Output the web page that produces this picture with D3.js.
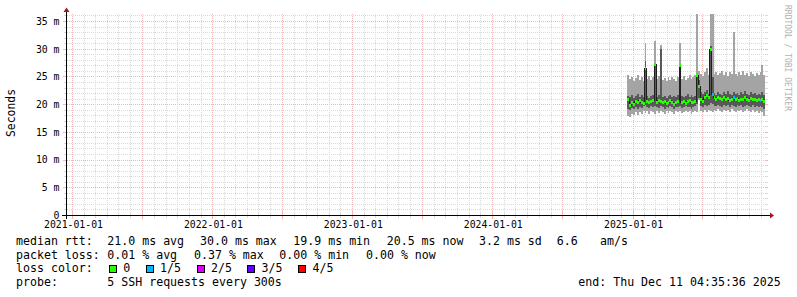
<!DOCTYPE html>
<html><head><meta charset="utf-8">
<script src="https://cdn.jsdelivr.net/npm/d3@7"></script>
<style>
body{margin:0;background:#fff}
svg{display:block}
text{font-family:"DejaVu Sans Mono",monospace;fill:#000}
</style>
</head><body>
<svg id="c" width="797" height="297"></svg>
<script>
// ---- time range of the graph ----
const startTime = new Date("2020-12-11T04:35:36Z");
const endTime = new Date("2025-12-11T04:35:36Z");
// samples (consolidated RRA rows)
const sampleStart = "2024-12-17T00:00:00Z";
const sampleStepDays = 5;

// sorted ping values per sample, ms (p1 = min ... p5 = max), median = p3
const p5 = [25.3,24.6,25.0,24.2,24.8,25.4,24.5,24.9,24.3,31.1,24.7,25.2,24.4,24.9,31.5,24.6,25.1,30.7,24.5,24.8,24.2,24.9,24.4,25.0,24.6,24.3,24.9,31.1,24.7,25.1,24.5,24.8,25.3,24.6,25.0,25.4,36.5,26.0,25.6,25.2,25.8,26.6,25.4,36.5,36.5,25.5,25.9,25.3,25.7,26.0,25.4,25.8,25.2,25.9,25.5,33.1,25.6,25.1,25.8,25.4,26.0,25.3,25.7,25.2,25.9,25.5,25.1,25.7,25.3,25.8,27.1,25.4];
const p4 = [21.6,21.3,21.8,21.2,21.5,21.9,21.4,21.7,21.3,27.8,21.6,21.2,21.5,21.8,27.6,21.4,21.7,30.0,21.3,21.6,21.2,21.5,21.8,21.3,21.6,21.4,21.7,27.4,21.5,21.3,21.6,21.9,21.4,21.7,21.3,21.6,25.4,24.4,22.3,21.9,22.2,22.6,22.0,30.6,25.0,22.1,21.8,22.3,22.0,21.7,22.2,21.9,22.4,22.0,21.8,22.3,21.9,22.1,21.7,22.2,21.9,22.4,22.0,21.8,22.2,21.9,22.1,21.7,22.0,21.8,22.3,21.8];
const median = [21.0,19.9,20.4,20.1,20.6,20.3,20.7,20.4,20.2,26.6,20.5,20.3,20.6,20.8,27.3,20.4,20.7,20.5,20.3,20.6,20.2,20.4,20.7,20.3,20.1,20.4,20.6,27.0,20.3,20.5,20.2,20.6,20.8,20.4,20.3,20.6,25.3,23.3,20.9,20.6,21.2,21.6,21.3,30.0,21.9,21.2,21.0,21.3,21.1,20.9,21.2,21.0,21.1,20.8,21.0,21.2,20.9,21.1,20.8,21.0,20.9,21.2,21.0,20.8,21.1,20.9,21.0,20.8,20.9,20.7,20.9,20.5];
const p2 = [19.2,19.0,19.4,19.3,19.5,19.3,19.6,19.4,19.7,20.0,19.6,19.4,19.7,19.5,19.8,19.6,19.4,19.7,19.5,19.3,19.6,19.4,19.7,19.5,19.3,19.6,19.5,19.8,19.4,19.6,19.7,19.5,19.6,19.3,19.6,19.7,20.2,21.2,19.8,19.6,19.9,19.7,20.0,20.3,20.2,19.8,19.7,20.0,19.8,19.6,19.9,19.7,19.9,19.6,20.0,19.8,19.6,19.9,19.7,20.0,19.6,19.8,20.0,19.7,19.5,19.9,19.6,19.8,19.5,19.7,19.6,19.3];
const p1 = [18.0,17.8,18.3,18.1,18.6,18.2,18.7,18.4,18.9,18.5,18.8,18.3,18.9,18.6,18.4,18.8,18.5,18.9,18.6,18.3,18.8,18.5,18.9,18.7,18.4,18.8,18.6,18.9,18.5,18.7,18.9,18.6,18.8,18.4,18.7,18.9,18.6,20.8,18.9,18.6,19.0,18.7,19.1,18.8,18.6,19.0,18.8,19.2,18.9,18.7,19.1,18.8,19.0,18.7,19.2,18.9,18.6,19.0,18.8,19.1,18.7,18.9,19.2,18.8,18.6,19.0,18.7,18.9,18.5,18.8,18.6,18.0];
// lost pings per sample (out of 5)
const loss = [0,0,0,0,0,0,0,0,0,0,0,0,0,0,0,0,0,0,0,0,0,0,0,0,0,0,0,0,0,0,0,0,0,0,0,0,0,0,0,0,0,0,0,0,1,0,0,0,0,0,0,0,0,0,0,1,0,0,0,0,0,0,0,0,0,0,0,0,0,1,0,0];

// ---- axes ----
const yTickValues = [0,5,10,15,20,25,30,35];
const yTickLabels = ["0","5 m","10 m","15 m","20 m","25 m","30 m","35 m"];
const xLabelDates = ["2021-01-01","2022-01-01","2023-01-01","2024-01-01","2025-01-01"];
const yMax = 36.35;

// ---- legend ----
const lossLabels = ["0","1/5","2/5","3/5","4/5"];
const lossColors = ["#26ff00","#00b8ff","#dd00ff","#5e00ff","#ff0000"];
const rttLine = [["median rtt:",16],["21.0 ms avg",107.3],["30.0 ms max",200],["19.9 ms min",293.3],["20.5 ms now",386.7],["3.2 ms sd",479],["6.6",556.7],["am/s",600]];
const lossLine = [["packet loss:",16],["0.01 % avg",107.3],["0.37 % max",194],["0.00 % min",279.3],["0.00 % now",366]];
const probeText = "5 SSH requests every 300s";
const endText = "end: Thu Dec 11 04:35:36 2025";

const svg = d3.select("#c");
svg.append("rect").attr("width",797).attr("height",297).attr("fill","#fff");

const x = d3.scaleUtc().domain([startTime,endTime]).range([65,765]);
const y = d3.scaleLinear().domain([0,yMax]).range([215.5,14]);
const px = v => Math.floor(v)+0.5;

const gridMinor = "#dadada", gridMajor = "#efb8b8";
const grid = svg.append("g").attr("shape-rendering","crispEdges");
// horizontal grid
d3.range(1,37).forEach(v=>{
  if (y(v) < 14) return;
  const major = v%5===0;
  grid.append("line").attr("x1",67).attr("x2",768).attr("y1",px(y(v))).attr("y2",px(y(v)))
    .attr("stroke",major?gridMajor:gridMinor).attr("stroke-dasharray","1,1");
  grid.append("line").attr("x1",major?63:64).attr("x2",68).attr("y1",px(y(v))).attr("y2",px(y(v)))
    .attr("stroke",major?gridMajor:gridMinor);
  grid.append("line").attr("x1",765).attr("x2",768).attr("y1",px(y(v))).attr("y2",px(y(v)))
    .attr("stroke",major?gridMajor:gridMinor);
});
// vertical grid (monthly minor, half-year major)
d3.utcMonth.range(startTime,endTime).forEach(d=>{
  const major = d.getUTCMonth()%6===0;
  const xx = px(x(d));
  grid.append("line").attr("x1",xx).attr("x2",xx).attr("y1",14).attr("y2",215)
    .attr("stroke",major?gridMajor:gridMinor).attr("stroke-dasharray","1,1");
  grid.append("line").attr("x1",xx).attr("x2",xx).attr("y1",major?211:212).attr("y2",major?219:218)
    .attr("stroke",major?gridMajor:gridMinor);
});

// ---- data ----
const t0 = new Date(sampleStart);
const rows = median.map((m,i)=>({
  t: d3.utcDay.offset(t0, i*sampleStepDays),
  p1:p1[i], p2:p2[i], m:m, p4:p4[i], p5:p5[i], loss:loss[i]
}));
const last = rows[rows.length-1];
const rowsExt = rows.concat([{...last, t:endTime}]);

svg.append("clipPath").attr("id","plot").append("rect").attr("x",66).attr("y",14).attr("width",699.5).attr("height",201);
const dg = svg.append("g").attr("clip-path","url(#plot)").attr("shape-rendering","crispEdges");

const band = (lo,hi) => d3.area().curve(d3.curveStepAfter).x(d=>x(d.t)).y0(d=>y(d[lo])).y1(d=>y(d[hi]));
dg.append("path").datum(rowsExt).attr("d",band("p1","p5")).attr("fill","#a4a4a4");
dg.append("path").datum(rowsExt).attr("d",band("p2","p4")).attr("fill","#585858");
dg.append("path").datum(rowsExt).attr("d",d3.line().curve(d3.curveStepAfter).x(d=>x(d.t)).y(d=>y(d.m)))
  .attr("fill","none").attr("stroke","#202020").attr("stroke-width",1);
dg.selectAll("rect.med").data(rows).join("rect").attr("class","med")
  .attr("x",d=>x(d.t)).attr("width",d=>Math.min(x(d3.utcDay.offset(d.t,sampleStepDays)),765)-x(d.t))
  .attr("y",d=>y(d.m)-1.5).attr("height",3)
  .attr("fill",d=>lossColors[d.loss]);

// ---- axes lines & arrows ----
const ax = svg.append("g").attr("shape-rendering","crispEdges");
ax.append("line").attr("x1",62).attr("x2",770).attr("y1",215.5).attr("y2",215.5).attr("stroke","#000");
ax.append("line").attr("x1",66.5).attr("x2",66.5).attr("y1",219).attr("y2",11).attr("stroke","#000");
svg.append("path").attr("d","M770,212.5 L774,215.5 L770,218.5 Z").attr("fill","#a01818");
svg.append("path").attr("d","M63.5,12 L66.5,7.5 L69.5,12 Z").attr("fill","#a01818");

// ---- tick labels ----
yTickValues.forEach((v,i)=>{
  svg.append("text").attr("x",59.5).attr("y",y(v)+3.3).attr("text-anchor","end")
    .attr("font-size","9.8px").text(yTickLabels[i]);
});
xLabelDates.forEach(s=>{
  svg.append("text").attr("x",x(new Date(s+"T00:00:00Z"))+0.5).attr("y",228.3).attr("text-anchor","middle")
    .attr("font-size","9.8px").text(s);
});

// vertical label and watermark
svg.append("text").attr("transform","translate(15,113) rotate(-90)").attr("text-anchor","middle")
  .attr("font-size","11.4px").text("Seconds");
svg.append("text").attr("transform","translate(785,5) rotate(90)").attr("font-size","8px")
  .style("fill","#b0b0b0").text("RRDTOOL / TOBI OETIKER");

// ---- legend ----
const fs = "11.6px";
rttLine.forEach(([s,xx])=>svg.append("text").attr("x",xx).attr("y",244.7).attr("font-size",fs).text(s));
lossLine.forEach(([s,xx])=>svg.append("text").attr("x",xx).attr("y",258.5).attr("font-size",fs).text(s));
svg.append("text").attr("x",16).attr("y",272.3).attr("font-size",fs).text("loss color:");
const boxX = [109,145.7,196.7,247.3,298.3];
lossLabels.forEach((s,i)=>{
  svg.append("rect").attr("x",Math.round(boxX[i])+0.5).attr("y",265.5).attr("width",7).attr("height",7)
    .attr("fill",lossColors[i]).attr("stroke","#000").attr("shape-rendering","crispEdges");
  svg.append("text").attr("x",boxX[i]+14.3).attr("y",272.3).attr("font-size",fs).text(s);
});
svg.append("text").attr("x",16).attr("y",286).attr("font-size",fs).text("probe:");
svg.append("text").attr("x",107.3).attr("y",286).attr("font-size",fs).text(probeText);
svg.append("text").attr("x",578.3).attr("y",286).attr("font-size",fs).text(endText);
</script>
</body></html>
